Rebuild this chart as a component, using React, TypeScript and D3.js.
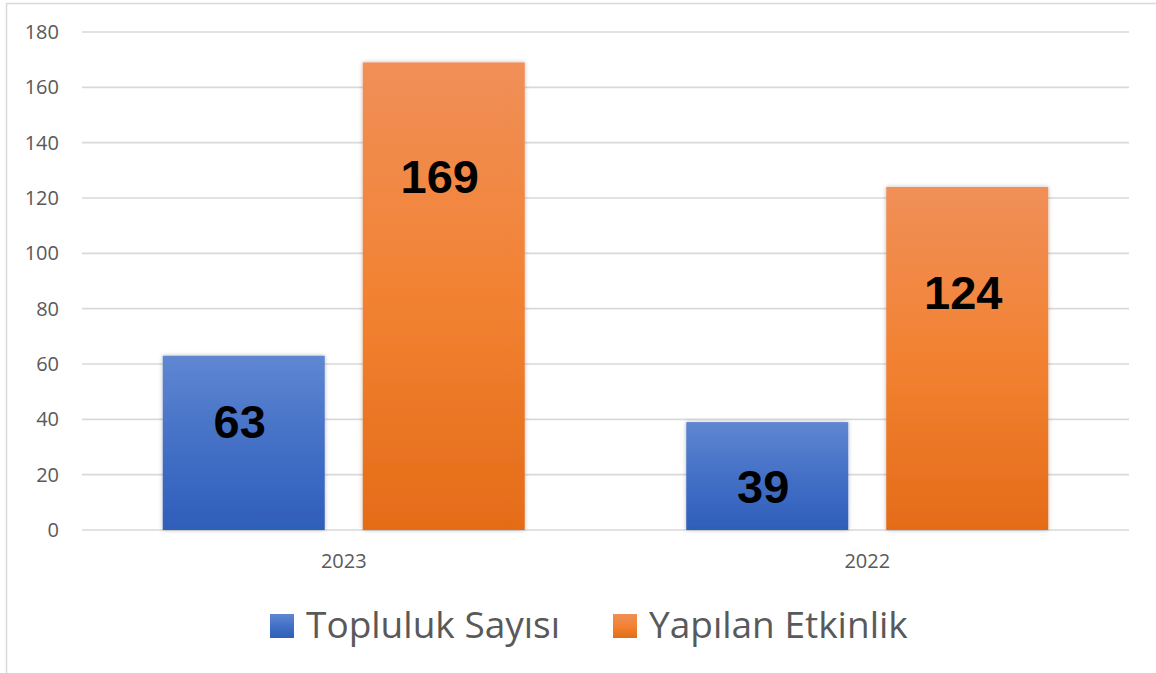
import React from 'react';
import * as d3 from 'd3';

const categories = ['2023', '2022'];
const seriesNames = ['Topluluk Sayısı', 'Yapılan Etkinlik'];
const toplulukSayisi = [63, 39];
const yapilanEtkinlik = [169, 124];
const yTicks = [0, 20, 40, 60, 80, 100, 120, 140, 160, 180];
// data-label baselines (in value units) as placed in the original
const toplulukLabelAt = [33.3, 9.8];
const etkinlikLabelAt = [121.8, 79.9];

const W = 1156;
const H = 673;

export default function App() {
  const y = d3.scaleLinear().domain([0, 180]).range([530, 32]);
  const x0 = d3.scaleBand<string>().domain(categories).range([82, 1129]).padding(0);
  const x1 = d3
    .scaleBand<string>()
    .domain(seriesNames)
    .range([0, x0.bandwidth()])
    .paddingInner(0.19)
    .paddingOuter(0.40375);

  const series = [
    { name: seriesNames[0], values: toplulukSayisi, labels: toplulukLabelAt, grad: 'gBlue', legendX: 270 },
    { name: seriesNames[1], values: yapilanEtkinlik, labels: etkinlikLabelAt, grad: 'gOrange', legendX: 613 },
  ];

  const axisColor = '#595959';
  const font = "'Open Sans', sans-serif";

  return (
    <svg
      width={W}
      height={H}
      style={{ position: 'absolute', left: 0, top: 0, background: '#fff' }}
    >
      <defs>
        <linearGradient id="gBlue" x1="0" y1="0" x2="0" y2="1">
          <stop offset="0" stopColor="#5f87d2" />
          <stop offset="0.5" stopColor="#4470c6" />
          <stop offset="1" stopColor="#2e5eba" />
        </linearGradient>
        <linearGradient id="gOrange" x1="0" y1="0" x2="0" y2="1">
          <stop offset="0" stopColor="#f08f58" />
          <stop offset="0.5" stopColor="#f28232" />
          <stop offset="1" stopColor="#e46c18" />
        </linearGradient>
        <filter id="shadow" x="-10%" y="-10%" width="120%" height="120%">
          <feDropShadow dx="0" dy="0" stdDeviation="2.2" floodColor="#000" floodOpacity="0.28" />
        </filter>
      </defs>

      <rect x={6.5} y={3.5} width={1200} height={720} fill="#fff" stroke="#d9d9d9" strokeWidth={1.5} />

      {yTicks.map((t) => (
        <g key={t}>
          <line x1={82} x2={1129} y1={y(t)} y2={y(t)} stroke="#d9d9d9" strokeWidth={1.6} />
          <text
            x={59}
            y={y(t)}
            dy="0.35em"
            textAnchor="end"
            fontFamily={font}
            fontSize={20}
            fill={axisColor}
          >
            {t}
          </text>
        </g>
      ))}

      {categories.map((c, ci) => (
        <g key={c} transform={`translate(${x0(c)},0)`}>
          {series.map((s) => (
            <rect
              key={s.name}
              x={x1(s.name)}
              y={y(s.values[ci])}
              width={x1.bandwidth()}
              height={y(0) - y(s.values[ci])}
              fill={`url(#${s.grad})`}
              filter="url(#shadow)"
            />
          ))}
          {series.map((s) => (
            <text
              key={s.name + 'l'}
              x={(x1(s.name) as number) + x1.bandwidth() / 2 - 4}
              y={y(s.labels[ci])}
              textAnchor="middle"
              fontFamily="'Liberation Sans', Arial, sans-serif"
              fontWeight="bold"
              fontSize={47}
              fill="#000"
            >
              {s.values[ci]}
            </text>
          ))}
          <text
            x={x0.bandwidth() / 2}
            y={568}
            textAnchor="middle"
            fontFamily={font}
            fontSize={20}
            fill={axisColor}
          >
            {c}
          </text>
        </g>
      ))}

      {series.map((s) => (
        <g key={s.name + 'leg'}>
          <rect x={s.legendX} y={614} width={24} height={24} fill={`url(#${s.grad})`} />
          <text x={s.legendX + 36} y={638} fontFamily={font} fontSize={37} fill={axisColor}>
            {s.name}
          </text>
        </g>
      ))}
    </svg>
  );
}
